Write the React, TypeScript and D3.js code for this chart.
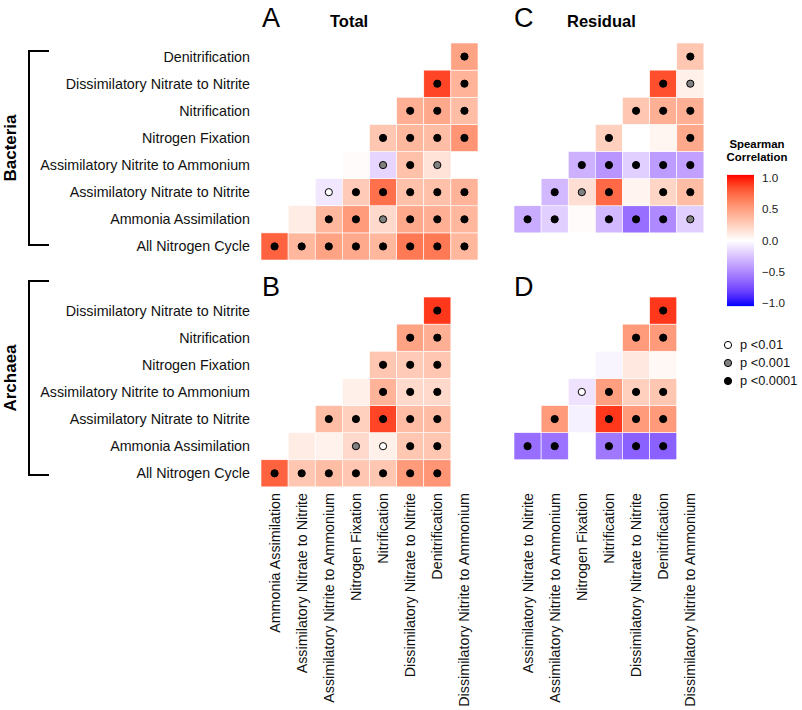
import React, { useEffect, useRef } from 'react';
import * as d3 from 'd3';

// nitrogen cycle processes, in the order used for rows (bottom->top) and columns
const bacteriaProcs = [
  'All Nitrogen Cycle',
  'Ammonia Assimilation',
  'Assimilatory Nitrate to Nitrite',
  'Assimilatory Nitrite to Ammonium',
  'Nitrogen Fixation',
  'Nitrification',
  'Dissimilatory Nitrate to Nitrite',
  'Denitrification',
  'Dissimilatory Nitrite to Ammonium',
];
const archaeaProcs = bacteriaProcs.slice(0, 8);

// each row holds the correlations with the processes after it (lower triangle)
// sig: 0 = n.s., 1 = p<0.01, 2 = p<0.001, 3 = p<0.0001
const totalBacteria = [
  [0.78, 0.38, 0.48, 0.45, 0.38, 0.68, 0.68, 0.38], // All Nitrogen Cycle
  [0.1, 0.38, 0.52, 0.2, 0.45, 0.42, 0.38], // Ammonia Assimilation
  [-0.1, 0.28, 0.72, 0.33, 0.33, 0.4], // Assimilatory Nitrate to Nitrite
  [0.02, -0.17, 0.33, 0.15, null], // Assimilatory Nitrite to Ammonium
  [0.3, 0.38, 0.35, 0.55], // Nitrogen Fixation
  [0.42, 0.45, 0.35], // Nitrification
  [0.88, 0.4], // Dissimilatory Nitrate to Nitrite
  [0.48], // Denitrification
];
const totalBacteriaSig = [
  [3, 3, 3, 3, 3, 3, 3, 3],
  [0, 3, 3, 2, 3, 3, 3],
  [1, 3, 3, 3, 3, 3],
  [0, 2, 3, 2, 0],
  [3, 3, 3, 3],
  [3, 3, 3],
  [3, 3],
  [3],
];

const residualBacteria = [
  [-0.35, -0.2, 0.02, -0.3, -0.62, -0.5, -0.2], // Ammonia Assimilation
  [-0.3, 0.17, 0.75, 0.06, 0.22, 0.35], // Assimilatory Nitrate to Nitrite
  [-0.33, -0.45, -0.2, -0.42, -0.4], // Assimilatory Nitrite to Ammonium
  [0.25, 0.0, 0.05, 0.45], // Nitrogen Fixation
  [0.3, 0.42, 0.42], // Nitrification
  [0.85, 0.08], // Dissimilatory Nitrate to Nitrite
  [0.3], // Denitrification
];
const residualBacteriaSig = [
  [3, 3, 0, 3, 3, 3, 2],
  [3, 2, 3, 0, 3, 3],
  [3, 3, 3, 3, 3],
  [3, 0, 0, 3],
  [3, 3, 3],
  [3, 2],
  [3],
];

const totalArchaea = [
  [0.78, 0.3, 0.35, 0.3, 0.3, 0.52, 0.55], // All Nitrogen Cycle
  [0.1, 0.07, 0.2, 0.08, 0.3, 0.3], // Ammonia Assimilation
  [0.35, 0.25, 0.88, 0.35, 0.35], // Assimilatory Nitrate to Nitrite
  [0.08, 0.4, 0.2, 0.2], // Assimilatory Nitrite to Ammonium
  [0.3, 0.28, 0.3], // Nitrogen Fixation
  [0.48, 0.42], // Nitrification
  [0.92], // Dissimilatory Nitrate to Nitrite
];
const totalArchaeaSig = [
  [3, 3, 3, 3, 3, 3, 3],
  [0, 0, 2, 1, 3, 3],
  [3, 3, 3, 3, 3],
  [0, 3, 3, 3],
  [3, 3, 3],
  [3, 3],
  [3],
];

const residualArchaea = [
  [-0.62, -0.6, null, -0.58, -0.68, -0.68], // Ammonia Assimilation
  [0.52, -0.06, 0.92, 0.52, 0.52], // Assimilatory Nitrate to Nitrite
  [-0.12, 0.5, 0.25, 0.3], // Assimilatory Nitrite to Ammonium
  [-0.04, 0.12, 0.04], // Nitrogen Fixation
  [0.52, 0.52], // Nitrification
  [0.92], // Dissimilatory Nitrate to Nitrite
];
const residualArchaeaSig = [
  [3, 3, 0, 3, 3, 3],
  [3, 0, 3, 3, 3],
  [1, 3, 3, 3],
  [0, 0, 0],
  [3, 3],
  [3],
];

const legendTicks = [1, 0.5, 0, -0.5, -1];
const sigLabels = ['p <0.01', 'p <0.001', 'p <0.0001'];
const sigFill = ['none', 'white', '#808080', 'black'];

const FONT = '"Liberation Sans", Arial, Helvetica, sans-serif';

const App = () => {
  const svgRef = useRef<SVGSVGElement>(null);

  useEffect(() => {
    const svg = d3.select(svgRef.current);
    svg.selectAll('*').remove();
    svg.style('font-family', FONT);

    const cell = 27.125;
    const fillColor = (v: number) =>
      v >= 0
        ? d3.interpolateLab('#ffffff', '#ff0000')(Math.min(v, 1))
        : d3.interpolateLab('#ffffff', '#0000ff')(Math.min(-v, 1));

    // scales
    const xLeft = d3.scaleBand().domain(bacteriaProcs.slice(1)).range([261, 261 + 8 * cell]);
    const xRight = d3.scaleBand().domain(bacteriaProcs.slice(2)).range([514, 514 + 7 * cell]);
    const yTop = d3.scaleBand().domain(bacteriaProcs.slice(0, 8).reverse()).range([43, 43 + 8 * cell]);
    const yBottom = d3.scaleBand().domain(archaeaProcs.slice(0, 7).reverse()).range([297, 297 + 7 * cell]);

    const drawPanel = (vals, sigs, rowProcs, colProcs, x, y) => {
      const cells = [];
      vals.forEach((row, i) => {
        row.forEach((v, k) => {
          if (v === null) return;
          cells.push({ r: rowProcs[i], c: colProcs[i + k], v, s: sigs[i][k] });
        });
      });
      const g = svg.append('g');
      g.selectAll('rect')
        .data(cells)
        .join('rect')
        .attr('x', d => x(d.c))
        .attr('y', d => y(d.r))
        .attr('width', x.bandwidth())
        .attr('height', y.bandwidth())
        .attr('fill', d => fillColor(d.v))
        .attr('stroke', 'white')
        .attr('stroke-width', 0.6);
      g.selectAll('circle')
        .data(cells.filter(d => d.s > 0))
        .join('circle')
        .attr('cx', d => x(d.c) + x.bandwidth() / 2)
        .attr('cy', d => y(d.r) + y.bandwidth() / 2)
        .attr('r', 3.6)
        .attr('fill', d => sigFill[d.s])
        .attr('stroke', 'black')
        .attr('stroke-width', 1);
    };

    drawPanel(totalBacteria, totalBacteriaSig, bacteriaProcs.slice(0, 8), bacteriaProcs.slice(1), xLeft, yTop);
    drawPanel(residualBacteria, residualBacteriaSig, bacteriaProcs.slice(1, 8), bacteriaProcs.slice(2), xRight, yTop);
    drawPanel(totalArchaea, totalArchaeaSig, archaeaProcs.slice(0, 7), archaeaProcs.slice(1), xLeft, yBottom);
    drawPanel(residualArchaea, residualArchaeaSig, archaeaProcs.slice(1, 7), archaeaProcs.slice(2), xRight, yBottom);

    // row labels
    const rowLabels = (y) => {
      svg.append('g')
        .selectAll('text')
        .data(y.domain())
        .join('text')
        .attr('x', 250)
        .attr('y', d => y(d) + y.bandwidth() / 2)
        .attr('dy', '0.35em')
        .attr('text-anchor', 'end')
        .style('font-size', '14.3px')
        .style('fill', '#111')
        .text(d => d);
    };
    rowLabels(yTop);
    rowLabels(yBottom);

    // column labels (shared by top and bottom panels)
    const colLabels = (x) => {
      svg.append('g')
        .selectAll('text')
        .data(x.domain())
        .join('text')
        .attr('transform', d => `translate(${x(d) + x.bandwidth() / 2},493) rotate(-90)`)
        .attr('dy', '0.35em')
        .attr('text-anchor', 'end')
        .style('font-size', '14.3px')
        .style('fill', '#111')
        .text(d => d);
    };
    colLabels(xLeft);
    colLabels(xRight);

    // panel letters and titles
    const letters = [['A', 262, 27], ['C', 514, 27], ['B', 262, 296], ['D', 514, 296]];
    svg.append('g')
      .selectAll('text')
      .data(letters)
      .join('text')
      .attr('x', d => d[1])
      .attr('y', d => d[2])
      .style('font-size', '27px')
      .text(d => d[0]);
    svg.append('text').attr('x', 330).attr('y', 27).style('font-size', '16.5px').style('font-weight', 'bold').text('Total');
    svg.append('text').attr('x', 567).attr('y', 27).style('font-size', '16.5px').style('font-weight', 'bold').text('Residual');

    // group brackets
    const brackets = [['Bacteria', 51, 245], ['Archaea', 281, 475]];
    brackets.forEach(([name, y0, y1]) => {
      svg.append('path')
        .attr('d', `M49,${y0}H29V${y1}H49`)
        .attr('fill', 'none')
        .attr('stroke', 'black')
        .attr('stroke-width', 2);
      svg.append('text')
        .attr('transform', `translate(16,${(y0 + y1) / 2}) rotate(-90)`)
        .attr('text-anchor', 'middle')
        .style('font-size', '17px')
        .style('font-weight', 'bold')
        .text(name);
    });

    // colour bar legend
    const cb = d3.scaleLinear().domain([-1, 1]).range([303, 178]);
    const grad = svg.append('defs').append('linearGradient')
      .attr('id', 'cbar')
      .attr('x1', 0).attr('x2', 0).attr('y1', 0).attr('y2', 1);
    d3.range(0, 1.0001, 0.05).forEach(t => {
      grad.append('stop')
        .attr('offset', t)
        .attr('stop-color', fillColor(1.05 - 2.1 * t));
    });
    svg.append('rect')
      .attr('x', 727)
      .attr('y', cb(1.05))
      .attr('width', 27)
      .attr('height', cb(-1.05) - cb(1.05))
      .attr('fill', 'url(#cbar)');
    svg.append('g')
      .selectAll('text')
      .data(legendTicks)
      .join('text')
      .attr('x', 762)
      .attr('y', d => cb(d))
      .attr('dy', '0.35em')
      .style('font-size', '11.7px')
      .style('fill', '#222')
      .text(d => d3.format('.1f')(d));
    svg.append('text').attr('x', 757).attr('y', 148).attr('text-anchor', 'middle')
      .style('font-size', '11.4px').style('font-weight', 'bold').text('Spearman');
    svg.append('text').attr('x', 757).attr('y', 161).attr('text-anchor', 'middle')
      .style('font-size', '11.4px').style('font-weight', 'bold').text('Correlation');

    // significance legend
    const sy = d3.scalePoint().domain(sigLabels).range([345, 381]);
    const sl = svg.append('g');
    sl.selectAll('circle')
      .data(sigLabels)
      .join('circle')
      .attr('cx', 728)
      .attr('cy', d => sy(d))
      .attr('r', 3.6)
      .attr('fill', (d, i) => sigFill[i + 1])
      .attr('stroke', 'black');
    sl.selectAll('text')
      .data(sigLabels)
      .join('text')
      .attr('x', 740)
      .attr('y', d => sy(d))
      .attr('dy', '0.35em')
      .style('font-size', '12.8px')
      .style('fill', '#111')
      .text(d => d);
  }, []);

  return (
    <svg
      ref={svgRef}
      width={802}
      height={710}
      style={{ position: 'absolute', left: 0, top: 0, background: 'white' }}
    />
  );
};

export default App;
